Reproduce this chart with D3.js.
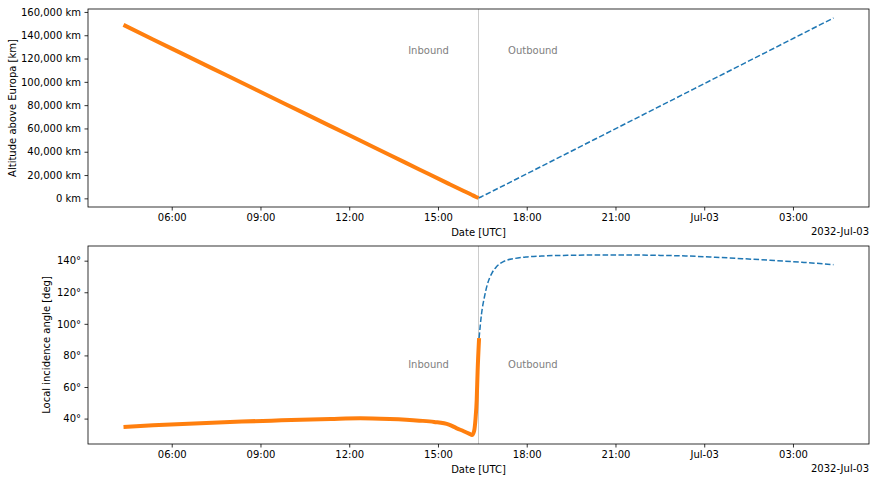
<!DOCTYPE html>
<html>
<head>
<meta charset="utf-8">
<script src="https://cdn.jsdelivr.net/npm/d3@7"></script>
<style>
  body { margin: 0; background: #fff; }
  svg { display: block; font-family: "DejaVu Sans", sans-serif; }
</style>
</head>
<body>
<div id="chart"></div>
<script>
// hours since 2032-07-02 00:00 UTC
const closestApproach = 16.37;

// altitude, inbound (orange) and outbound (blue dashed)
const altInTimes = [4.37, 5.37, 6.37, 7.37, 8.37, 9.37, 10.37, 11.37, 12.37, 13.37, 14.37, 15.37, 15.87, 16.12, 16.27, 16.37];
const altInValues = [148900, 136400, 124000, 111600, 99200, 86800, 74400, 62000, 49600, 37200, 24800, 12400, 6300, 3300, 1400, 300];
const altOutTimes = [16.37, 16.47, 16.62, 16.87, 17.37, 18.37, 19.37, 20.37, 21.37, 22.37, 23.37, 24.37, 25.37, 26.37, 27.37, 28.37];
const altOutValues = [300, 1400, 3300, 6500, 12900, 25800, 38700, 51600, 64500, 77400, 90300, 103200, 116100, 129000, 141900, 154800];

// local incidence angle
const angInTimes = [4.37, 5.37, 6.37, 7.37, 8.37, 9.37, 10.37, 11.37, 12.37, 13.37, 14.37, 14.87, 15.37, 15.62, 15.87, 16.07, 16.15, 16.22, 16.27, 16.31, 16.34, 16.39];
const angInValues = [34.6, 35.7, 36.6, 37.4, 38.1, 38.7, 39.3, 39.8, 40.2, 39.7, 38.7, 37.9, 36.2, 34.0, 32.0, 30.3, 29.6, 32, 40, 52, 70, 91];
const angOutTimes = [16.39, 16.47, 16.57, 16.67, 16.82, 16.97, 17.22, 17.57, 17.97, 18.57, 19.37, 20.37, 21.37, 22.37, 23.37, 24.37, 25.37, 26.37, 27.37, 28.37];
const angOutValues = [91, 106, 117, 125, 132, 136, 139.5, 141.3, 142.3, 143.0, 143.4, 143.6, 143.6, 143.4, 143.0, 142.2, 141.2, 140.1, 138.9, 137.5];

const tickHours = [6, 9, 12, 15, 18, 21, 24, 27];
const altTicks = [0, 20000, 40000, 60000, 80000, 100000, 120000, 140000, 160000];
const angTicks = [40, 60, 80, 100, 120, 140];

const toDate = h => new Date(Date.UTC(2032, 6, 2) + h * 3600e3);

const W = 875, H = 482;
const margin = { left: 88, right: 6 };
const panels = [
  { top: 9, h: 198, label: "Altitude above Europa [km]", labelX: 12,
    inT: altInTimes, inV: altInValues, outT: altOutTimes, outV: altOutValues,
    ticks: altTicks, fmt: d => d3.format(",")(d) + " km", textY: 127000 },
  { top: 246, h: 198, label: "Local incidence angle [deg]", labelX: 46,
    inT: angInTimes, inV: angInValues, outT: angOutTimes, outV: angOutValues,
    ticks: angTicks, fmt: d => d + "°", textY: 74 }
];

const svg = d3.select("#chart").append("svg")
  .attr("width", W).attr("height", H);

const gw = W - margin.left - margin.right;
// x domain with 5% padding like matplotlib
const tMin = d3.min(altInTimes), tMax = d3.max(altOutTimes);
const tPad = (tMax - tMin) * 0.05;
const x = d3.scaleUtc().domain([toDate(tMin - tPad), toDate(tMax + tPad)]).range([0, gw]);

const xFmt = d => d.getUTCHours() === 0 && d.getUTCMinutes() === 0
  ? d3.utcFormat("%b-%d")(d) : d3.utcFormat("%H:%M")(d);

panels.forEach(p => {
  const g = svg.append("g").attr("transform", `translate(${margin.left},${p.top})`);
  const all = p.inV.concat(p.outV);
  const lo = d3.min(all), hi = d3.max(all), pad = (hi - lo) * 0.05;
  const y = d3.scaleLinear().domain([lo - pad, hi + pad]).range([p.h, 0]);

  // x axis
  const xa = g.append("g").attr("transform", `translate(0,${p.h})`)
    .call(d3.axisBottom(x).tickValues(tickHours.map(toDate)).tickFormat(xFmt)
      .tickSize(3.5).tickPadding(3.5).tickSizeOuter(0));
  // y axis
  const ya = g.append("g")
    .call(d3.axisLeft(y).tickValues(p.ticks).tickFormat(p.fmt)
      .tickSize(3.5).tickPadding(3.5).tickSizeOuter(0));
  [xa, ya].forEach(a => {
    a.select(".domain").remove();
    a.selectAll("line").attr("stroke", "#000").attr("stroke-width", 0.8);
    a.selectAll("text").attr("font-size", 10).attr("fill", "#000")
      .attr("font-family", "DejaVu Sans");
  });

  // closest approach marker
  g.append("line")
    .attr("x1", x(toDate(closestApproach))).attr("x2", x(toDate(closestApproach)))
    .attr("y1", 0).attr("y2", p.h)
    .attr("stroke", "#cccccc").attr("stroke-width", 1);

  const line = d3.line().curve(d3.curveMonotoneX)
    .x(d => x(toDate(d[0]))).y(d => y(d[1]));

  g.append("path").datum(d3.zip(p.outT, p.outV))
    .attr("d", line).attr("fill", "none")
    .attr("stroke", "#1f77b4").attr("stroke-width", 1.5)
    .attr("stroke-dasharray", "5.55,2.4");
  g.append("path").datum(d3.zip(p.inT, p.inV))
    .attr("d", line).attr("fill", "none")
    .attr("stroke", "#ff7f0e").attr("stroke-width", 4)
    .attr("stroke-linejoin", "round");

  // inbound / outbound labels
  g.append("text").text("Inbound")
    .attr("x", x(toDate(closestApproach - 1))).attr("y", y(p.textY))
    .attr("text-anchor", "end").attr("dy", "0.35em")
    .attr("font-size", 10).attr("fill", "gray");
  g.append("text").text("Outbound")
    .attr("x", x(toDate(closestApproach + 1))).attr("y", y(p.textY))
    .attr("text-anchor", "start").attr("dy", "0.35em")
    .attr("font-size", 10).attr("fill", "gray");

  // frame
  g.append("rect").attr("width", gw).attr("height", p.h)
    .attr("fill", "none").attr("stroke", "#000").attr("stroke-width", 0.8);

  // labels
  g.append("text").text("Date [UTC]")
    .attr("x", gw / 2).attr("y", p.h + 25.5).attr("dy", "0.35em")
    .attr("text-anchor", "middle").attr("font-size", 10);
  g.append("text").text("2032-Jul-03")
    .attr("x", gw).attr("y", p.h + 24).attr("dy", "0.35em")
    .attr("text-anchor", "end").attr("font-size", 10);
  svg.append("text").text(p.label)
    .attr("transform", `translate(${p.labelX},${p.top + p.h / 2}) rotate(-90)`)
    .attr("dy", "0.35em").attr("text-anchor", "middle").attr("font-size", 10);
});
</script>
</body>
</html>
